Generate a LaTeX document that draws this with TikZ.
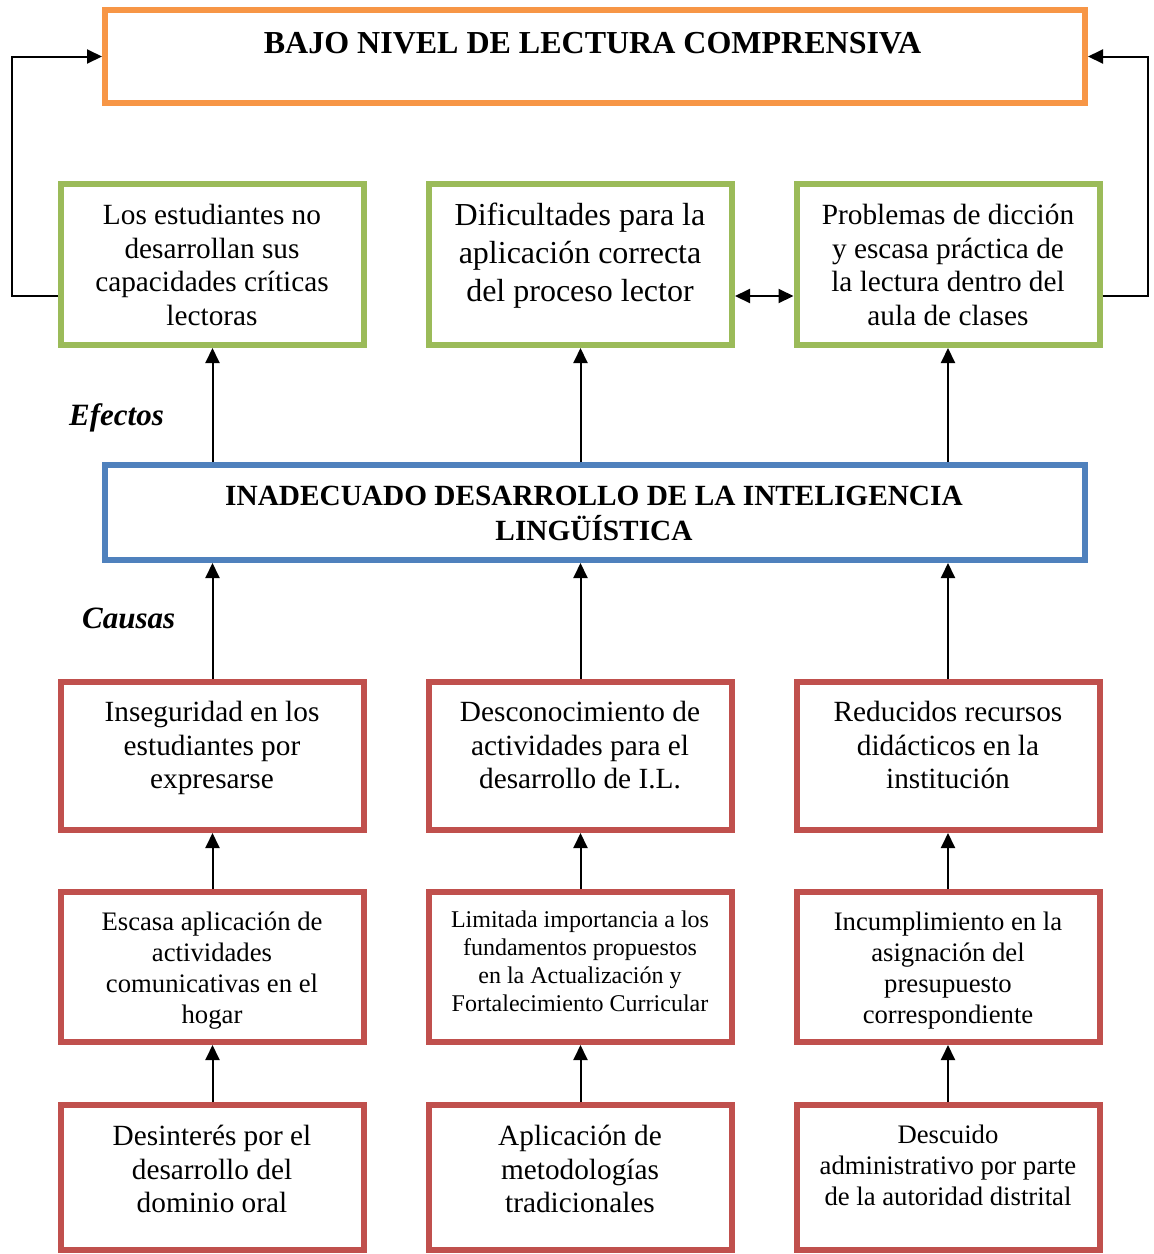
\documentclass[tikz,border=0pt]{standalone}
\usepackage{fontspec}
\setmainfont{Liberation Serif}
\usetikzlibrary{arrows.meta}
\definecolor{orgc}{HTML}{F79646}
\definecolor{grnc}{HTML}{9BBB59}
\definecolor{bluc}{HTML}{4F81BD}
\definecolor{redc}{HTML}{C0504D}
\begin{document}
\begin{tikzpicture}[x=1pt,y=-1pt,
  box/.style={draw,line width=6pt,inner sep=0pt,minimum width=303pt},
  widebox/.style={draw,line width=6pt,inner sep=0pt,minimum width=980pt},
  txt/.style={align=center,inner sep=0pt,
    execute at begin node=\strut,execute at end node=\strut},
  fa/.style={font=\fontsize{29.3}{33.7}\selectfont},
  fb/.style={font=\fontsize{32}{38}\selectfont},
  fc/.style={font=\fontsize{26.7}{31}\selectfont},
  fd/.style={font=\fontsize{24}{28}\selectfont},
  tip/.tip={Triangle[length=15pt,width=14pt]},
  arr/.style={line width=2pt,-tip},
  darr/.style={line width=2pt,tip-tip},
]
\useasboundingbox (0,0) rectangle (1154,1254);

% boxes
\node[widebox,draw=orgc,minimum height=93pt] (t) at (595,56.5) {};
\node[box,draw=grnc,minimum height=161pt] (e1) at (212.5,264.5) {};
\node[box,draw=grnc,minimum height=161pt] (e2) at (580.5,264.5) {};
\node[box,draw=grnc,minimum height=161pt] (e3) at (948,264.5) {};
\node[widebox,draw=bluc,minimum height=95pt] (b) at (595,512.5) {};
\node[box,draw=redc,minimum height=148pt] (c1) at (212.5,756) {};
\node[box,draw=redc,minimum height=148pt] (c2) at (580.5,756) {};
\node[box,draw=redc,minimum height=148pt] (c3) at (948,756) {};
\node[box,draw=redc,minimum height=150pt] (d1) at (212.5,967) {};
\node[box,draw=redc,minimum height=150pt] (d2) at (580.5,967) {};
\node[box,draw=redc,minimum height=150pt] (d3) at (948,967) {};
\node[box,draw=redc,minimum height=145pt] (f1) at (212.5,1177.5) {};
\node[box,draw=redc,minimum height=145pt] (f2) at (580.5,1177.5) {};
\node[box,draw=redc,minimum height=145pt] (f3) at (948,1177.5) {};

% texts
\node[anchor=base,inner sep=0pt,font=\fontsize{32}{37}\selectfont\bfseries] (tt) at (592.5,53) {BAJO NIVEL DE LECTURA COMPRENSIVA};
\node[txt,fa] (e1t) at (212,270) {Los estudiantes no\\desarrollan sus\\capacidades críticas\\lectoras};
\node[txt,fb] (e2t) at (580,258) {Dificultades para la\\aplicación correcta\\del proceso lector};
\node[txt,fa] (e3t) at (948,270) {Problemas de dicción\\y escasa práctica de\\la lectura dentro del\\aula de clases};
\node[txt,font=\fontsize{29.3}{35}\selectfont\bfseries] (bt) at (594,518.5) {INADECUADO DESARROLLO DE LA INTELIGENCIA\\LINGÜÍSTICA};
\node[txt,fa] (c1t) at (212,750) {Inseguridad en los\\estudiantes por\\expresarse};
\node[txt,fa] (c2t) at (580,750) {Desconocimiento de\\actividades para el\\desarrollo de I.L.};
\node[txt,fa] (c3t) at (948,750) {Reducidos recursos\\didácticos en la\\institución};
\node[txt,fc] (d1t) at (212,972) {Escasa aplicación de\\actividades\\comunicativas en el\\hogar};
\node[txt,fd] (d2t) at (580,965) {Limitada importancia a los\\fundamentos propuestos\\en la Actualización y\\Fortalecimiento Curricular};
\node[txt,fc] (d3t) at (948,972) {Incumplimiento en la\\asignación del\\presupuesto\\correspondiente};
\node[txt,fa] (f1t) at (212,1174) {Desinterés por el\\desarrollo del\\dominio oral};
\node[txt,fa] (f2t) at (580,1174) {Aplicación de\\metodologías\\tradicionales};
\node[txt,fc] (f3t) at (948,1169.5) {Descuido\\administrativo por parte\\de la autoridad distrital};
\node[anchor=base west,inner sep=0pt,font=\fontsize{31}{36}\selectfont\bfseries\itshape] (ef) at (69,425) {Efectos};
\node[anchor=base west,inner sep=0pt,font=\fontsize{31}{36}\selectfont\bfseries\itshape] (ca) at (82,628) {Causas};

% connectors
\coordinate (lv) at (0,296);
\coordinate (fl) at (12,296);
\coordinate (fr) at (1148,296);
\draw[arr] (e1.west |- lv) -- (fl) |- (t.west);
\draw[arr] (e3.east |- lv) -- (fr) |- (t.east);
\draw[darr] (e2.east |- lv) -- (e3.west |- lv);

\draw[arr] (b.north -| e1.south) -- (e1.south);
\draw[arr] (b.north -| e2.south) -- (e2.south);
\draw[arr] (b.north -| e3.south) -- (e3.south);

\draw[arr] (c1.north) -- (c1.north |- b.south);
\draw[arr] (c2.north) -- (c2.north |- b.south);
\draw[arr] (c3.north) -- (c3.north |- b.south);

\draw[arr] (d1.north) -- (c1.south);
\draw[arr] (d2.north) -- (c2.south);
\draw[arr] (d3.north) -- (c3.south);

\draw[arr] (f1.north) -- (d1.south);
\draw[arr] (f2.north) -- (d2.south);
\draw[arr] (f3.north) -- (d3.south);
\end{tikzpicture}
\end{document}
